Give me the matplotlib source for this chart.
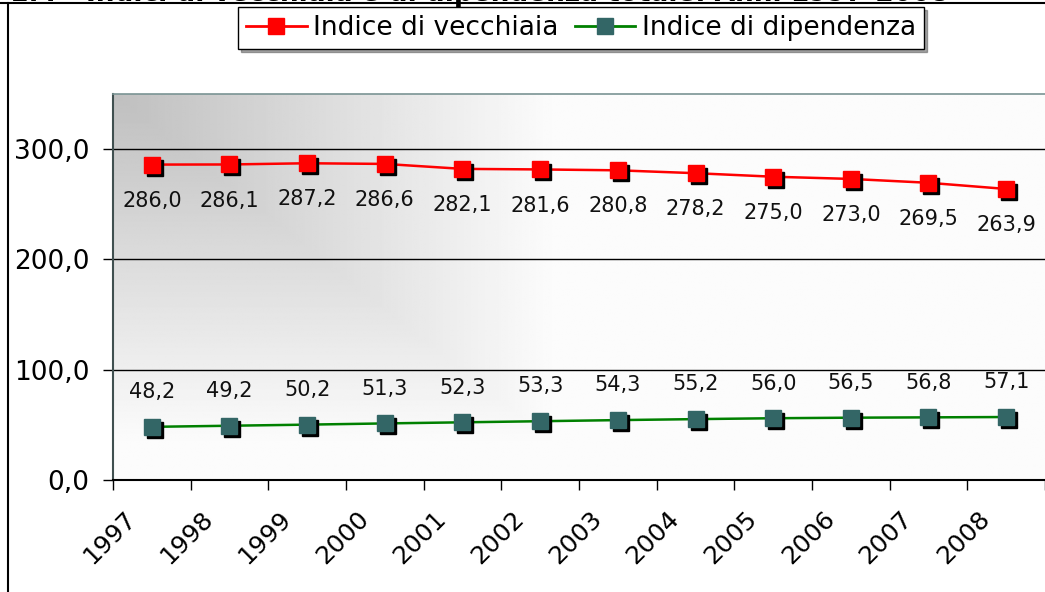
import numpy as np
import matplotlib
matplotlib.use("Agg")
import matplotlib.pyplot as plt
import matplotlib.transforms as mtransforms
from matplotlib.lines import Line2D

# data
anni = ["1997", "1998", "1999", "2000", "2001", "2002",
        "2003", "2004", "2005", "2006", "2007", "2008"]
vecchiaia = [286.0, 286.1, 287.2, 286.6, 282.1, 281.6,
             280.8, 278.2, 275.0, 273.0, 269.5, 263.9]
dipendenza = [48.2, 49.2, 50.2, 51.3, 52.3, 53.3,
              54.3, 55.2, 56.0, 56.5, 56.8, 57.1]
y_ticks = [0, 100, 200, 300]
titolo = "1.4 - Indici di vecchiaia e di dipendenza totale. Anni 1997-2008"

RED = "#ff0000"
GREEN_LINE = "#008000"
GREEN_MARK = "#336666"


def fmt(v):
    return f"{v:.1f}".replace(".", ",")


fig = plt.figure(figsize=(10.45, 5.92), dpi=100)
ax = fig.add_axes([113 / 1045, 1 - 480 / 592, 1 - 113 / 1045, (480 - 94) / 592])

x = np.arange(len(anni))
ax.set_xlim(-0.5, len(anni) - 0.5)
ax.set_ylim(0, 350)

# corner gradient background (grey top-left fading to white)
gx, gy = np.meshgrid(np.linspace(0, 1, 400), np.linspace(0, 1, 300))
t = np.clip(np.maximum(gx / 0.47, gy / 0.9), 0, 1)
shade = 0.75 + 0.235 * t
ax.imshow(shade, cmap="gray", vmin=0, vmax=1, aspect="auto", origin="upper",
          extent=[-0.5, len(anni) - 0.5, 0, 350], zorder=0, interpolation="bilinear")

# gridlines
for yv in y_ticks[1:]:
    ax.axhline(yv, color="black", lw=1.0, zorder=1)

shadow = mtransforms.offset_copy(ax.transData, fig=fig, x=3, y=-3, units="dots")

ax.plot(x, vecchiaia, color=RED, lw=1.8, zorder=3)
ax.plot(x, vecchiaia, ls="none", marker="s", ms=12, color="black",
        transform=shadow, zorder=4)
ax.plot(x, vecchiaia, ls="none", marker="s", ms=12, color=RED, zorder=5)

ax.plot(x, dipendenza, color=GREEN_LINE, lw=1.8, zorder=3)
ax.plot(x, dipendenza, ls="none", marker="s", ms=12, color="black",
        transform=shadow, zorder=4)
ax.plot(x, dipendenza, ls="none", marker="s", ms=12, color=GREEN_MARK, zorder=5)

for xi, v in zip(x, vecchiaia):
    ax.annotate(fmt(v), (xi, v), xytext=(0, -26), textcoords="offset points",
                ha="center", va="center", fontsize=15, color="#111111", zorder=6)
for xi, v in zip(x, dipendenza):
    ax.annotate(fmt(v), (xi, v), xytext=(0, 25), textcoords="offset points",
                ha="center", va="center", fontsize=15, color="#111111", zorder=6)

# axes styling
ax.set_yticks(y_ticks, labels=[fmt(v) for v in y_ticks], fontsize=19)
ax.tick_params(axis="y", length=7, width=1, direction="out", pad=10)
ax.set_xticks(np.arange(len(anni) + 1) - 0.5, minor=True)
ax.tick_params(axis="x", which="minor", length=7, width=1, direction="out")
ax.set_xticks(x, labels=anni, fontsize=18)
ax.tick_params(axis="x", which="major", length=0, pad=25)
for lab in ax.get_xticklabels():
    lab.set_rotation(45)
    lab.set_ha("right")
    lab.set_va("center")
    lab.set_rotation_mode("anchor")
    lab.set_transform(lab.get_transform() +
                      mtransforms.ScaledTranslation(-20 / 100, 0, fig.dpi_scale_trans))

ax.spines["right"].set_visible(False)
ax.spines["top"].set_color("#7a9494")
ax.spines["top"].set_linewidth(1.2)
ax.spines["left"].set_color("#405050")
ax.spines["left"].set_linewidth(1.5)
ax.spines["bottom"].set_color("black")
ax.spines["bottom"].set_linewidth(1.5)

# legend
handles = [
    Line2D([], [], color=RED, lw=2, marker="s", ms=12, markerfacecolor=RED,
           markeredgecolor=RED),
    Line2D([], [], color=GREEN_LINE, lw=2, marker="s", ms=12,
           markerfacecolor=GREEN_MARK, markeredgecolor=GREEN_MARK),
]
leg = fig.legend(handles, ["Indice di vecchiaia", "Indice di dipendenza"],
                 loc="upper center", bbox_to_anchor=(581 / 1045, 1 - 7 / 592),
                 ncol=2, frameon=True, fancybox=False, shadow=True,
                 prop={"size": 19},
                 handlelength=2.3, handletextpad=0.25, columnspacing=0.6,
                 borderpad=0.3, borderaxespad=0)
leg.get_frame().set_edgecolor("black")
leg.get_frame().set_linewidth(1.0)

# partially visible title (cut by the top edge, as in the original) and outer frame
fig.text(10 / 1045, 1 - 1 / 592, titolo, ha="left", va="baseline",
         fontsize=19, fontweight="bold")
fig.add_artist(Line2D([0, 1], [1 - 2.5 / 592, 1 - 2.5 / 592], color="black", lw=1.5,
                      transform=fig.transFigure))
fig.add_artist(Line2D([7.5 / 1045, 7.5 / 1045], [0, 1 - 2.5 / 592], color="black", lw=1.5,
                      transform=fig.transFigure))

fig.savefig("out.png", dpi=100)
